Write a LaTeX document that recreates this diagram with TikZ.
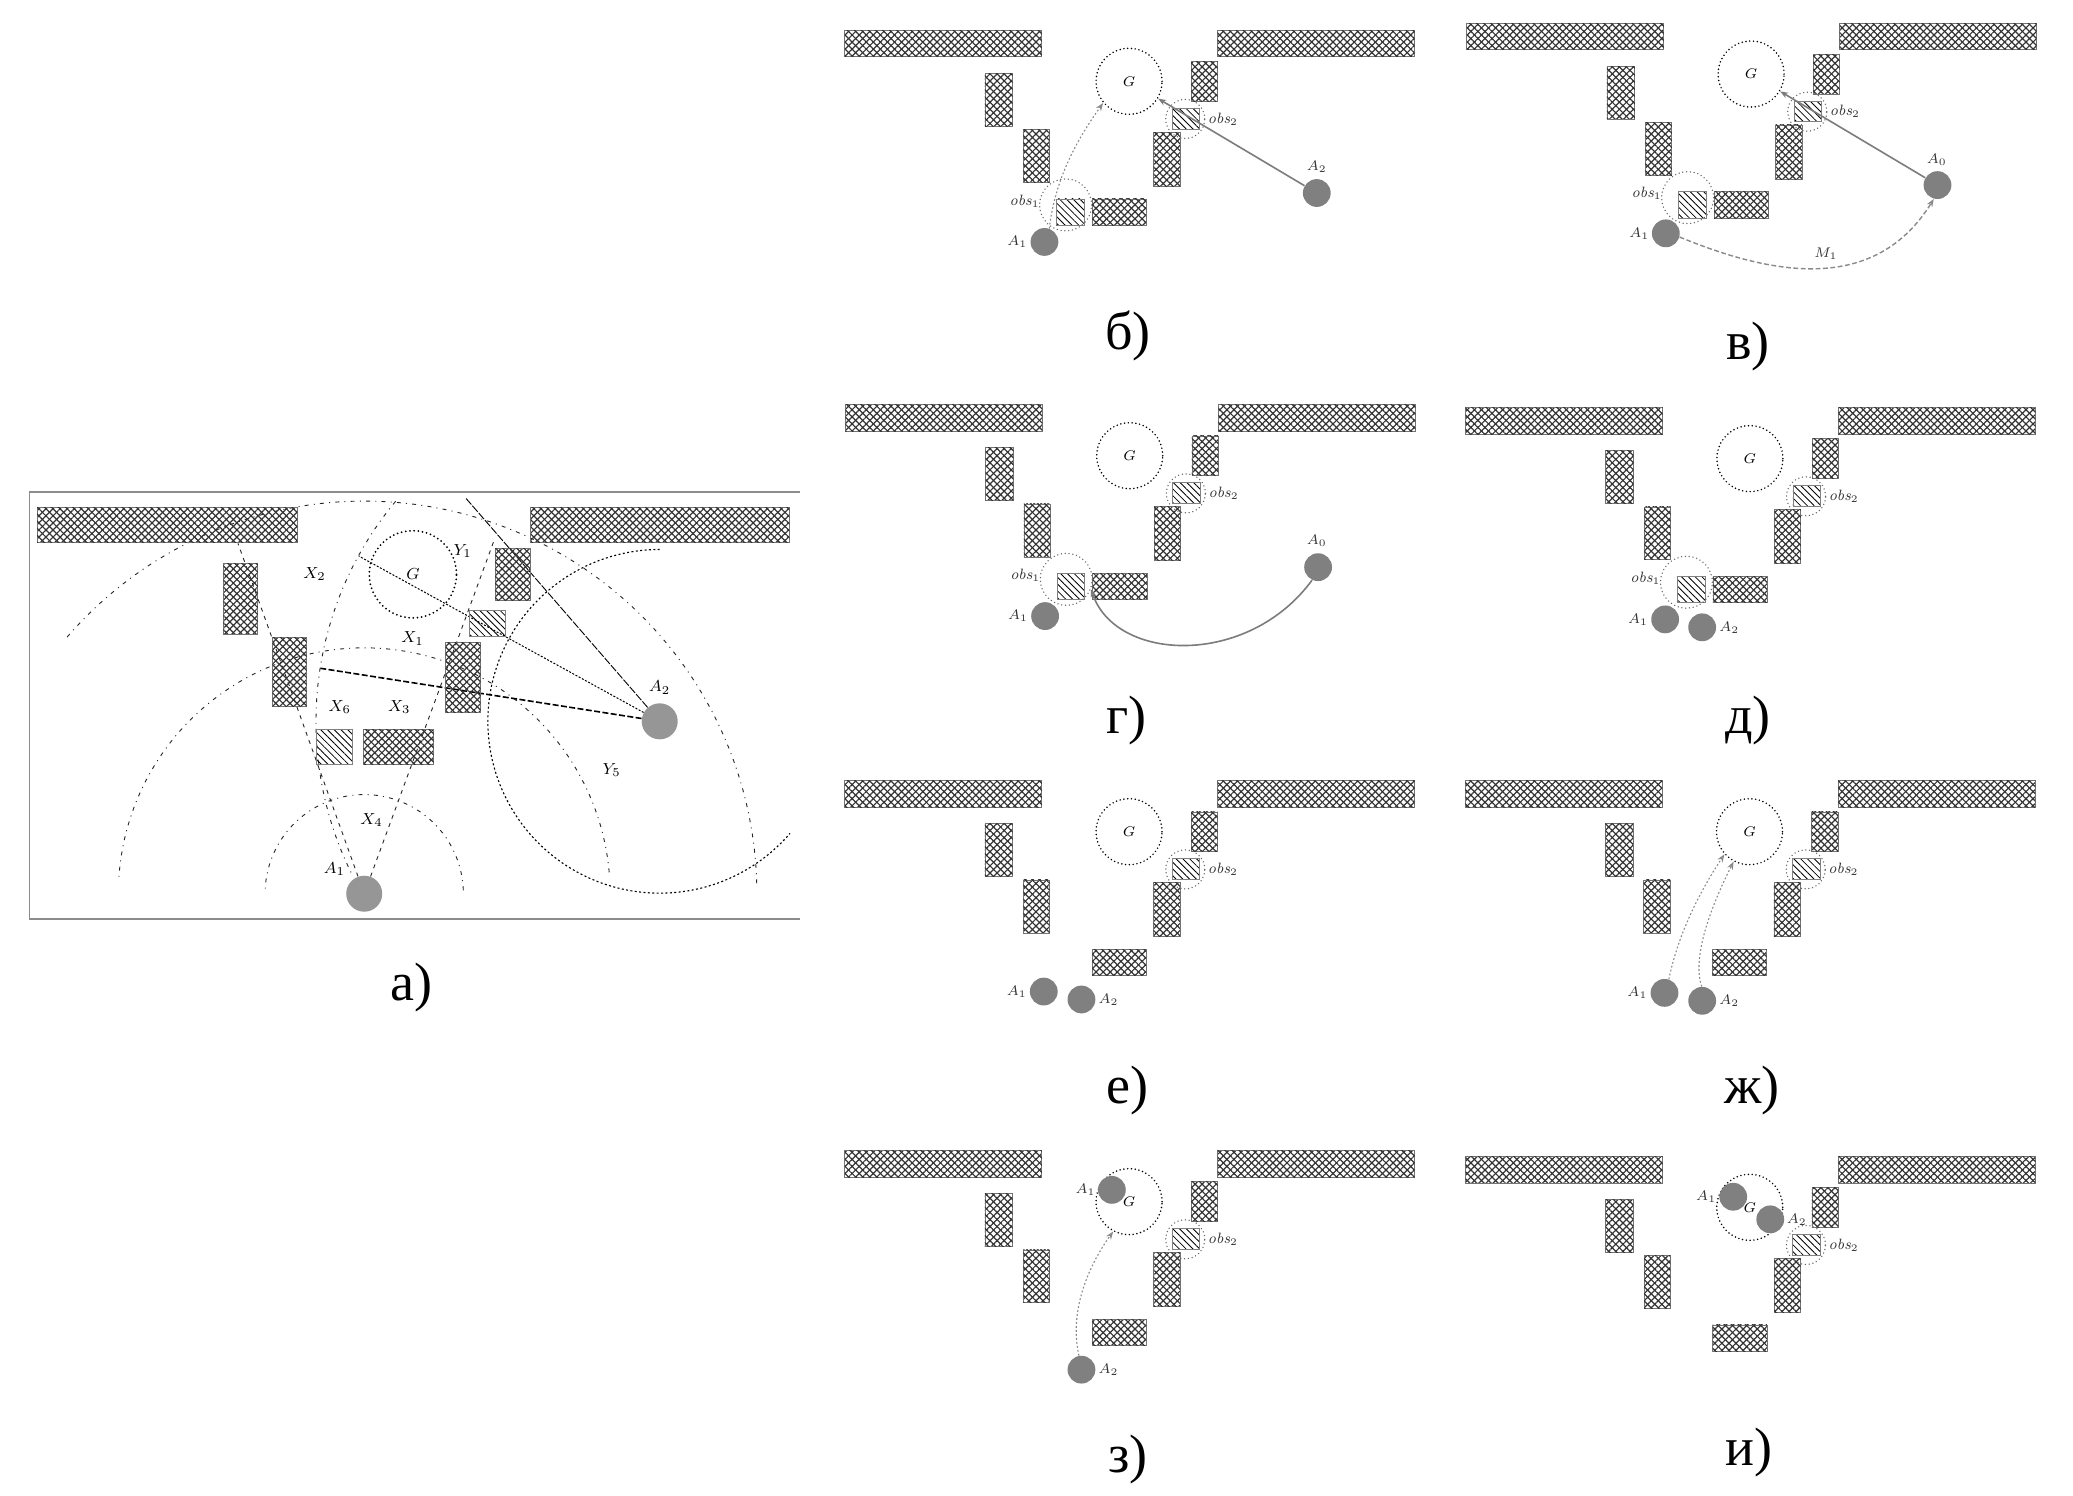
\documentclass[tikz,border=0pt]{standalone}
\usepackage{fontspec}
\newfontfamily\capfont{Liberation Serif}
\usetikzlibrary{patterns.meta,arrows.meta,shapes.geometric}
\definecolor{agentgray}{HTML}{808080}
\definecolor{agentlight}{HTML}{969696}
\definecolor{pathgray}{HTML}{8A8A8A}
\tikzset{
  wallbox/.style={draw=black!55,line width=.35pt,
    pattern={Lines[angle=45,distance=2.5pt,line width=.6pt]},pattern color=black!80,
    postaction={pattern={Lines[angle=-45,distance=2.5pt,line width=.6pt]},pattern color=black!80}},
  hatchbox/.style={draw=black!50,line width=.35pt,
    pattern={Lines[angle=-45,distance=2.4pt,line width=.42pt]}},
  agent/.style={circle,fill=agentgray,minimum size=13.9pt,inner sep=0pt},
  bigagent/.style={circle,fill=agentlight,minimum size=18pt,inner sep=0pt},
  goalring/.style={circle,draw=black,line width=.85pt,dash pattern=on 0pt off 1.9pt,line cap=round,
    minimum size=33pt,inner sep=0pt,font=\fontsize{7}{8}\selectfont},
  obsring/.style={circle,draw=black!60,line width=.75pt,dash pattern=on 0pt off 1.9pt,line cap=round,inner sep=0pt},
  lab/.style={inner sep=0pt,font=\fontsize{7.5}{9}\selectfont,text=black!80},
  alab/.style={inner sep=0pt,font=\fontsize{8.5}{10}\selectfont},
  caption/.style={inner sep=0pt,font=\capfont\fontsize{27}{30}\selectfont},
  tip/.style={-{Stealth[length=4pt,width=3pt]}},
  solidpath/.style={draw=pathgray!90!black,line width=.8pt},
  dotpath/.style={draw=pathgray,line width=.55pt,dash pattern=on .9pt off 1.1pt,tip},
  dashpath/.style={draw=pathgray,line width=.7pt,dash pattern=on 2.4pt off 1.3pt,tip},
  arcdash/.style={draw=black!85,line width=.45pt,dash pattern=on 2pt off 2.6pt on .5pt off 2.6pt},
  arcdot/.style={draw=black,line width=.55pt,dash pattern=on 1pt off 1.2pt},
  tanthick/.style={draw=black,line width=.8pt,dash pattern=on 3pt off 1.2pt},
  tanlong/.style={draw=black,line width=.45pt,dash pattern=on 4pt off .8pt},
  tandot/.style={draw=black,line width=.5pt,dash pattern=on 1pt off .8pt},
  tandash/.style={draw=black!85,line width=.45pt,dash pattern=on 2pt off 2.4pt},
}
% the obstacles shared by panels: prefix, dx, dy
\newcommand{\panelbase}[3]{%
  \begin{scope}[shift={(#2,#3)}]
    \path[wallbox] (639,23) rectangle (788,43);
    \path[wallbox] (921,23) rectangle (1070,43);
    \path[wallbox] (745,55.5) rectangle (766,95.5);
    \path[wallbox] (774,98) rectangle (794,138);
    \path[wallbox] (826,150.5) rectangle (867,170.5);
    \path[wallbox] (872.5,100) rectangle (892.5,141);
    \path[wallbox] (901,46.5) rectangle (921,76.5);
    \path[hatchbox] (886.5,82) rectangle (907.5,97.5);
    \node[goalring] (#1G) at (854,61.5) {$G$};
    \node[obsring,minimum size=19.5pt] (#1R) at (896.5,90) {};
    \node[lab] (#1Ro) at (925,90) {$\mathit{obs}_2$};
  \end{scope}}
\newcommand{\obsone}[3]{%
  \begin{scope}[shift={(#2,#3)}]
    \path[hatchbox] (799,150.5) rectangle (820,170.5);
    \node[obsring,minimum size=26pt] (#1Q) at (806,155) {};
    \node[lab] (#1Qo) at (775,152) {$\mathit{obs}_1$};
  \end{scope}}
% agent: node name, x, y, label text, label x, label y
\newcommand{\agentat}[6]{%
  \node[agent] (#1) at (#2,#3) {};
  \node[lab] (#1t) at (#5,#6) {#4};}
\begin{document}
\begin{tikzpicture}[x=0.661pt,y=-0.661pt]
\useasboundingbox (0,0) rectangle (1568,1131);
\fill[white] (0,0) rectangle (1568,1131);
% ---------- panel a
\draw[black!45,line width=.7pt] (605,372) -- (22.5,372) -- (22.5,695) -- (605,695);
\node[bigagent] (aA1) at (275.5,676) {};
\node[bigagent] (aA2) at (499,545.6) {};
\coordinate (aT1) at (180,411);
\coordinate (aT2) at (374,408);
\coordinate (aT3) at (352.5,377);
\coordinate (aT4) at (271.4,420.6);
\coordinate (aT5) at (242.4,505.5);
\draw[arcdash] plot[domain=2:178,samples=60] ({275.5+75*cos(\x)},{676-75*sin(\x)});
\draw[arcdash] plot[domain=5:177,samples=90] ({275.5+186*cos(\x)},{676-186*sin(\x)});
\draw[arcdash] plot[domain=1.5:139.6,samples=110] ({275.5+297*cos(\x)},{676-297*sin(\x)});
\draw[arcdot] plot[domain=90:319.3,samples=110] ({499+130*cos(\x)},{545.6-130*sin(\x)});
\draw[arcdash] plot[domain=140.2:206.4,samples=60] ({499+260*cos(\x)},{545.6-260*sin(\x)});
\draw[tandash] (aA1) -- (aT1);
\draw[tandash] (aA1) -- (aT2);
\draw[tanlong] (aA2) -- (aT3);
\draw[tandot] (aA2) -- (aT4);
\draw[tanthick] (aA2) -- (aT5);
\path[wallbox] (28,384) rectangle (225,410.5);
\path[wallbox] (401.5,384) rectangle (597,410.5);
\path[wallbox] (169,426) rectangle (195,479.5);
\path[wallbox] (206,482) rectangle (232,534.5);
\path[wallbox] (275,551.5) rectangle (328,578);
\path[wallbox] (337,486) rectangle (363.5,539);
\path[wallbox] (374.5,415) rectangle (401,454);
\path[hatchbox] (239.5,551.5) rectangle (266.5,578);
\path[hatchbox] (355,461.5) rectangle (382,481.5);
\node[circle,draw=black,line width=1pt,dash pattern=on 0pt off 2.1pt,line cap=round,minimum size=43.6pt,inner sep=0pt,font=\fontsize{8.5}{10}\selectfont] (aG) at (312.3,434.4) {$G$};
\node[alab] (aX2) at (238,434) {$X_2$};
\node[alab] (aY1) at (350,417) {$Y_1$};
\node[alab] (aX1) at (312,483) {$X_1$};
\node[alab] (aX6) at (257,534.5) {$X_6$};
\node[alab] (aX3) at (302,534.5) {$X_3$};
\node[alab] (aLA2) at (499,520) {$A_2$};
\node[alab] (aY5) at (462.6,582.5) {$Y_5$};
\node[alab] (aX4) at (281,620) {$X_4$};
\node[alab] (aLA1) at (253,657.5) {$A_1$};
\node[caption] (capa) at (311,747) {а)};
% ---------- panel b
\panelbase{b}{0}{0}\obsone{b}{0}{0}
\agentat{bA1}{790}{183}{$A_1$}{769.5}{183}
\agentat{bA2}{996}{146}{$A_2$}{996}{126}
\draw[solidpath,tip] (bA2) -- (bG);
\draw[dotpath] (bA1.70) .. controls (798,135) and (815,105) .. (bG.220);
\node[caption] (capb) at (853,254) {б)};
% ---------- panel v
\panelbase{v}{470.5}{-5.5}\obsone{v}{470.5}{-5.5}
\agentat{vA1}{1260}{176.5}{$A_1$}{1240}{176.5}
\agentat{vA2}{1465.5}{140}{$A_0$}{1465}{121}
\draw[solidpath,tip] (vA2) -- (vG);
\draw[dashpath] (vA1.-15) .. controls (1340,208) and (1418,223) .. (vA2.-105);
\node[lab] (vM) at (1381,192) {$M_1$};
\node[caption] (capv) at (1322,262) {в)};
% ---------- panel g
\panelbase{g}{0.5}{283.2}\obsone{g}{0.5}{283.2}
\agentat{gA1}{790.5}{466}{$A_1$}{770}{466}
\agentat{gA2}{997}{429}{$A_0$}{996}{409}
\draw[solidpath,tip] (gA2.-115) .. controls (944,505) and (844,501) .. (gQ.-22);
\node[caption] (capg) at (852,545) {г)};
% ---------- panel d
\panelbase{d}{469.6}{285.4}\obsone{d}{469.6}{285.4}
\agentat{dA1}{1259.5}{468.5}{$A_1$}{1239}{468.5}
\agentat{dA2}{1287.5}{474.5}{$A_2$}{1308}{474.5}
\node[caption] (capd) at (1322,545) {д)};
% ---------- panel e
\panelbase{e}{0}{567.6}
\agentat{eA1}{789.5}{750}{$A_1$}{769}{750}
\agentat{eA2}{818}{756}{$A_2$}{838.5}{756}
\node[caption] (cape) at (853,825) {е)};
% ---------- panel zh
\panelbase{zh}{469.3}{567.6}
\agentat{zhA1}{1259}{751}{$A_1$}{1238.5}{751}
\agentat{zhA2}{1287.5}{757}{$A_2$}{1308}{757}
\draw[dotpath] (zhA1.72) .. controls (1268,712) and (1282,680) .. (zhG.222);
\draw[dotpath] (zhA2.92) .. controls (1279,722) and (1297,680) .. (zhG.242);
\node[caption] (capzh) at (1325,825) {ж)};
% ---------- panel z
\panelbase{z}{0}{847.4}
\agentat{zA1}{841}{900}{$A_1$}{821}{900}
\agentat{zA2}{818}{1036}{$A_2$}{838.5}{1036}
\draw[dotpath] (zA2.100) .. controls (808,990) and (825,955) .. (zG.242);
\node[caption] (capz) at (853,1104) {з)};
% ---------- panel i
\panelbase{i}{469.5}{851.7}
\agentat{iA1}{1311}{905.2}{$A_1$}{1290.5}{905.2}
\agentat{iA2}{1339}{922.3}{$A_2$}{1359}{922.3}
\node[caption] (capi) at (1323,1099) {и)};
\end{tikzpicture}
\end{document}
